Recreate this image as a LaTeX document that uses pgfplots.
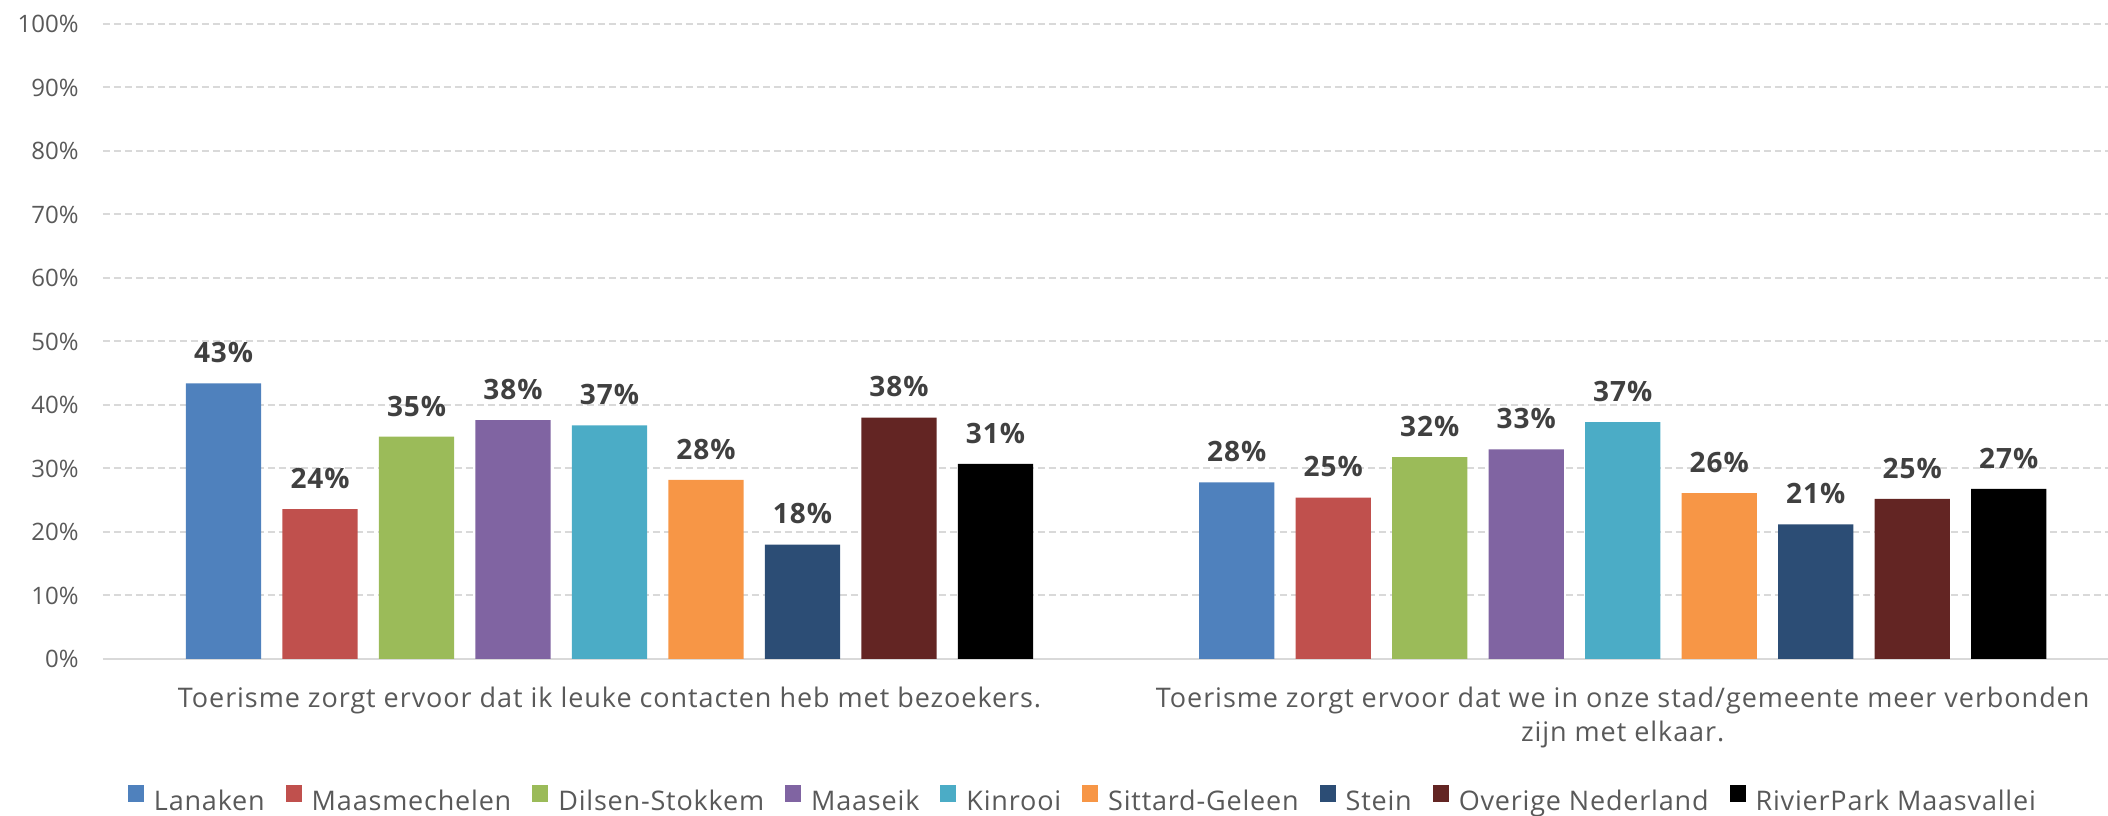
\documentclass[border=0pt]{standalone}
\usepackage{fontspec}
\setmainfont{Open Sans}[LetterSpace=3.5]
\newfontfamily\legfont{Open Sans}[LetterSpace=3]
\newfontfamily\plainfont{Open Sans}
\usepackage{pgfplots}
\pgfplotsset{compat=1.18}
\definecolor{cLan}{HTML}{4F81BD}
\definecolor{cMaa}{HTML}{C0504D}
\definecolor{cDil}{HTML}{9BBB59}
\definecolor{cMse}{HTML}{8064A2}
\definecolor{cKin}{HTML}{4BACC6}
\definecolor{cSit}{HTML}{F79646}
\definecolor{cSte}{HTML}{2C4D75}
\definecolor{cOve}{HTML}{632523}
\definecolor{cRiv}{HTML}{000000}
\definecolor{gridc}{HTML}{D9D9D9}
\definecolor{txt}{HTML}{595959}
\definecolor{lbl}{HTML}{404040}
\newcommand{\lblfont}{\fontsize{13.5}{16}\selectfont}
\newcommand{\tickfont}{\plainfont\fontsize{12}{15}\selectfont}
\newcommand{\valfont}{\fontsize{14}{16}\selectfont}
\begin{document}
\begin{tikzpicture}
\begin{axis}[
  name=ax,
  scale only axis,
  width=1002.6pt, height=317.5pt,
  xmin=-1.25, xmax=19.53, ymin=0, ymax=100,
  axis line style={draw=none},
  xtick=\empty,
  ytick={0,10,...,100},
  yticklabel={\pgfmathprintnumber[assume math mode=true]{\tick}\%},
  major tick length=0pt,
  yticklabel style={inner sep=0pt, xshift=-12pt, font=\tickfont, text=txt},
  ymajorgrids,
  major grid style={color=gridc, line width=1pt, dash pattern=on 3.5pt off 2pt},
  bar width=0.78,
  clip=false,
  point meta=explicit,
  nodes near coords={\pgfmathprintnumber[assume math mode=true]{\pgfplotspointmeta}\%},
  every node near coord/.append style={font=\bfseries\valfont, text=lbl, inner sep=0pt, anchor=south, yshift=10pt},
  every axis plot/.append style={ybar, bar shift=0pt, draw=none,
    legend image code/.code={\fill[##1] (0pt,0pt) rectangle (8pt,8.5pt);}},
  legend columns=9,
  legend style={at={(0.489,-0.249)}, anchor=south, draw=none, fill=none, inner sep=0pt,
    font=\legfont\lblfont, text=txt, nodes={inner sep=1.5pt},
    /tikz/every odd column/.style={column sep=3.5pt},
    /tikz/every even column/.style={column sep=9pt}},
]
\draw[gridc, line width=1pt] (rel axis cs:0,0) -- (rel axis cs:1,0);
\addplot[fill=cLan] coordinates {(0,43.4) [43] (10.5,27.8) [28]};
\addlegendentry{Lanaken}
\addplot[fill=cMaa] coordinates {(1,23.6) [24] (11.5,25.4) [25]};
\addlegendentry{Maasmechelen}
\addplot[fill=cDil] coordinates {(2,35.0) [35] (12.5,31.8) [32]};
\addlegendentry{Dilsen-Stokkem}
\addplot[fill=cMse] coordinates {(3,37.6) [38] (13.5,33.0) [33]};
\addlegendentry{Maaseik}
\addplot[fill=cKin] coordinates {(4,36.8) [37] (14.5,37.3) [37]};
\addlegendentry{Kinrooi}
\addplot[fill=cSit] coordinates {(5,28.2) [28] (15.5,26.1) [26]};
\addlegendentry{Sittard-Geleen}
\addplot[fill=cSte] coordinates {(6,18.0) [18] (16.5,21.2) [21]};
\addlegendentry{Stein}
\addplot[fill=cOve] coordinates {(7,38.0) [38] (17.5,25.2) [25]};
\addlegendentry{Overige Nederland}
\addplot[fill=cRiv] coordinates {(8,30.7) [31] (18.5,26.8) [27]};
\addlegendentry{RivierPark Maasvallei}
\node[anchor=base, font=\lblfont, text=txt, yshift=-24.5pt] at (axis cs:4,0) {Toerisme zorgt ervoor dat ik leuke contacten heb met bezoekers.};
\node[anchor=base, font=\lblfont, text=txt, yshift=-24.5pt] at (axis cs:14.5,0) {Toerisme zorgt ervoor dat we in onze stad/gemeente meer verbonden};
\node[anchor=base, font=\lblfont, text=txt, yshift=-41.5pt] at (axis cs:14.5,0) {zijn met elkaar.};
\end{axis}
\pgfresetboundingbox
\path ([xshift=-51.5pt,yshift=-78.5pt]ax.south west) rectangle ([yshift=12pt]ax.north east);
\end{tikzpicture}
\end{document}
